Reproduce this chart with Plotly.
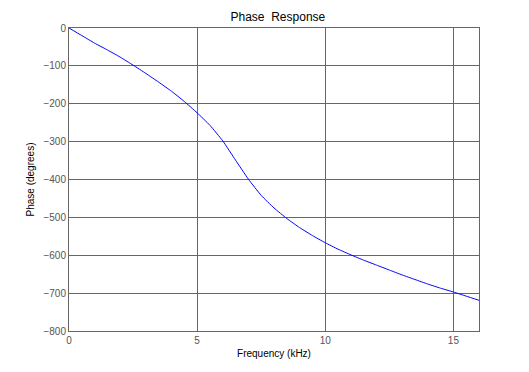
import plotly.graph_objects as go

freq_khz = [0, 0.5, 1, 1.5, 2, 2.5, 3, 3.5, 4, 4.5, 5, 5.5, 6, 6.5, 7, 7.5, 8,
            8.5, 9, 9.5, 10, 10.5, 11, 11.5, 12, 12.5, 13, 13.5, 14, 14.5, 15, 15.5, 16]
phase_deg = [0, -20, -40, -58, -77, -98, -120, -143, -167, -194, -224, -257, -298,
             -349, -399, -442, -475, -503, -527, -548, -567, -584, -599, -613, -626,
             -639, -652, -664, -676, -687, -697, -708, -719]

x_ticks = [0, 5, 10, 15]
y_ticks = list(range(-800, 1, 100))

fig = go.Figure(go.Scatter(x=freq_khz, y=phase_deg, mode="lines",
                           line=dict(color="#0000ff", width=1, shape="spline", smoothing=0.5)))

font = "Liberation Sans, Arial, sans-serif"
fig.update_layout(
    width=521, height=364,
    margin=dict(l=61, r=50, t=20, b=41),
    paper_bgcolor="white", plot_bgcolor="white",
    showlegend=False,
    title=dict(text="Phase  Response", x=0.518, xanchor="center", y=0.975, yanchor="middle",
               font=dict(family=font, size=12, color="black")),
    xaxis=dict(range=[0, 16], tickvals=x_ticks, showgrid=True, gridcolor="#666666", gridwidth=1,
               showline=True, linecolor="#666666", linewidth=1, mirror=True, zeroline=False,
               ticks="", tickfont=dict(family=font, size=10, color="#555555"),
               title=dict(text="Frequency (kHz)", font=dict(family=font, size=10, color="black"), standoff=4)),
    yaxis=dict(range=[-800, 0], tickvals=y_ticks, showgrid=True, gridcolor="#666666", gridwidth=1,
               showline=True, linecolor="#666666", linewidth=1, mirror=True, zeroline=False,
               ticks="", tickfont=dict(family=font, size=10, color="#555555"),
               title=dict(text="Phase (degrees)", font=dict(family=font, size=10, color="black"), standoff=6)),
)

fig.write_html("out.html")
